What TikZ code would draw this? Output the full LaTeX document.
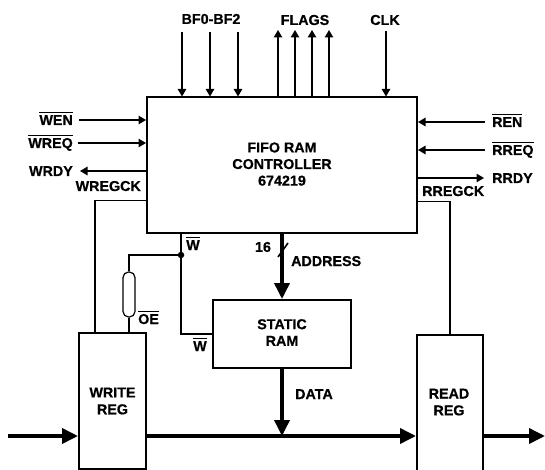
\documentclass[tikz,border=0pt]{standalone}
\usepackage{fontspec}
\setmainfont[BoldFeatures={FakeBold=0.6}]{Liberation Sans}
\usetikzlibrary{arrows.meta}
\newcommand{\barred}[1]{$\overline{\hbox{\rule{0pt}{11.6pt}#1}}$}
\tikzset{
  x=1pt,y=-1pt,
  block/.style={draw=black,line width=2pt,inner sep=0pt,align=center,font=\labelfont},
  lab/.style={inner sep=0pt,font=\labelfont,text=black},
  two/.style={align=center,text depth=0pt},
  wire/.style={draw=black,line width=1.2pt},
  sig/.style={wire,-{Triangle[length=7.5pt,width=8.5pt]}},
  bus/.style={draw=black,line width=3.6pt,-{Triangle[length=16pt,width=15pt]}},
}
\newcommand{\labelfont}{\fontsize{14.3}{17}\bfseries}
\begin{document}
\begin{tikzpicture}
\useasboundingbox (0,0) rectangle (545,470);
% blocks
\node[block,minimum width=270pt,minimum height=135pt] (main) at (282,165) {};
\node[lab,two] (maint) at (282,164) {FIFO RAM\\[-0.4pt]CONTROLLER\\[-0.4pt]674219};
\node[block,minimum width=138pt,minimum height=68pt] (ram) at (282,334) {};
\node[lab,two] (ramt) at (282,332.5) {STATIC\\[-0.4pt]RAM};
\node[block,minimum width=67pt,minimum height=136pt] (wreg) at (112.5,401) {WRITE\\[-0.2pt]REG};
\node[block,minimum width=66pt,minimum height=140pt] (rreg) at (450,405) {};
\node[lab,two] (rregt) at (449,402) {READ\\[-0.2pt]REG};
% top labels
\node[lab] (bf) at (211,19) {BF0-BF2};
\node[lab] (flags) at (305,20) {FLAGS};
\node[lab] (clk) at (385,20) {CLK};
% free ends, top
\coordinate (bfa) at (182,32);
\coordinate (bfb) at (210,32);
\coordinate (bfc) at (238,32);
\coordinate (fa) at (278,30);
\coordinate (fb) at (295,30);
\coordinate (fc) at (312,30);
\coordinate (fd) at (329,30);
\coordinate (ck) at (386,31);
\draw[sig] (bfa) -- (bfa |- main.north);
\draw[sig] (bfb) -- (bfb |- main.north);
\draw[sig] (bfc) -- (bfc |- main.north);
\draw[sig] (fa |- main.north) -- (fa);
\draw[sig] (fb |- main.north) -- (fb);
\draw[sig] (fc |- main.north) -- (fc);
\draw[sig] (fd |- main.north) -- (fd);
\draw[sig] (ck) -- (ck |- main.north);
% left signals
\node[lab,anchor=base east] (wen) at (73,125) {\barred{WEN}};
\node[lab,anchor=base east] (wreq) at (73,148) {\barred{WREQ}};
\node[lab,anchor=base east] (wrdy) at (73,176) {WRDY};
\node[lab,anchor=base east] (wck) at (141,191) {WREGCK};
\coordinate (wenS) at (79,120);
\coordinate (wreqS) at (78,143);
\coordinate (wrdyS) at (80,171);
\coordinate (wc) at (95,200.5);
\draw[sig] (wenS) -- (wenS -| main.west);
\draw[sig] (wreqS) -- (wreqS -| main.west);
\draw[sig] (wrdyS -| main.west) -- (wrdyS);
\draw[wire] (wc -| main.west) -- (wc) -- (wc |- wreg.north);
% right signals
\node[lab,anchor=base west] (ren) at (492,127) {\barred{REN}};
\node[lab,anchor=base west] (rreq) at (492,155) {\barred{RREQ}};
\node[lab,anchor=base west] (rrdy) at (492,183) {RRDY};
\node[lab,anchor=base west] (rck) at (422,196) {RREGCK};
\coordinate (renS) at (485,122);
\coordinate (rreqS) at (485,150);
\coordinate (rrdyS) at (484,178);
\coordinate (rc) at (450,201.5);
\draw[sig] (renS) -- (renS -| main.east);
\draw[sig] (rreqS) -- (rreqS -| main.east);
\draw[sig] (rrdyS -| main.east) -- (rrdyS);
\draw[wire] (rc -| main.east) -- (rc) -- (rc |- rreg.north);
% W net
\node[circle,fill=black,inner sep=0pt,minimum size=6.5pt] (jn) at (181,255) {};
\node[draw=black,line width=1.2pt,rounded corners=5.5pt,inner sep=0pt,minimum width=12pt,minimum height=45pt] (oe) at (129,294.5) {};
\draw[wire] (jn |- main.south) -- (jn);
\draw[wire] (jn) -- (jn |- ram.west) -- (ram.west);
\draw[wire] (jn) -| (oe.north);
\draw[wire] (oe.south) -- (oe.south |- wreg.north);
\node[lab,anchor=base] (wa) at (193,250) {\barred{W}};
\node[lab,anchor=base] (wb) at (200,351) {\barred{W}};
\node[lab,anchor=base west] (oet) at (138,324) {\barred{OE}};
% address and data
\draw[bus] (main.south -| ram.north) -- (ram.north);
\draw[wire,line width=1.6pt] (278,257) -- (288,243);
\node[lab] (n16) at (263,247) {16};
\node[lab,anchor=base west] (addr) at (291,266) {ADDRESS};
\coordinate (busjn) at (282,436);
\draw[bus] (ram.south) -- (busjn);
\node[lab,anchor=base west] (data) at (295,399) {DATA};
% main bus
\coordinate (inS) at (8,436);
\coordinate (outE) at (545,436);
\draw[bus] (inS) -- (inS -| wreg.west);
\draw[bus] (inS -| wreg.east) -- (inS -| rreg.west);
\draw[bus] (inS -| rreg.east) -- (outE);
\end{tikzpicture}
\end{document}
